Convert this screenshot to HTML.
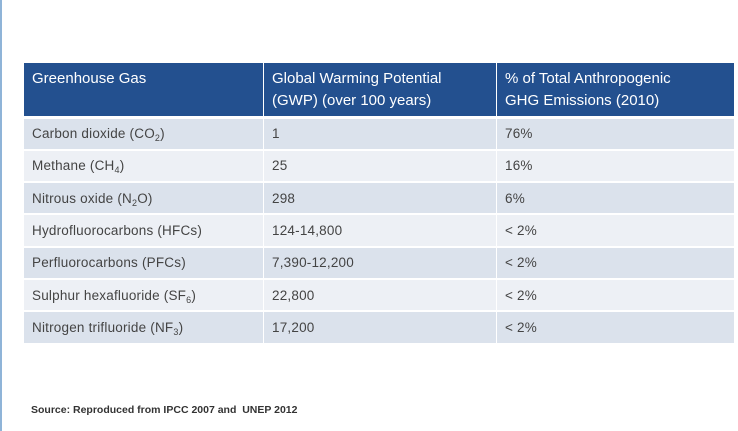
<!DOCTYPE html>
<html><head><style>
body{margin:0;width:738px;height:431px;background:#fff;position:relative;overflow:hidden;font-family:"Liberation Sans",sans-serif}
.bar{position:absolute;left:0;top:0;width:2px;height:431px;background:#8fb4d8}
table{position:absolute;left:23px;top:62px;width:712px;border-collapse:collapse}
td,th{padding:0 0 0 8px;text-align:left;border:1px solid #fff;border-bottom:2px solid #fff;box-sizing:border-box}
th{background:#23508f;color:#fff;font-weight:normal;font-size:15px;line-height:22px;height:55px;vertical-align:top;padding-top:5px;border-bottom:3px solid #fff}
td{font-size:13.5px;color:#444;height:32.3px;letter-spacing:0.2px}
tr:nth-child(even) td{background:#dbe2ec}
tr:nth-child(odd) td{background:#edf0f5}
sub{font-size:9px;vertical-align:-3px;line-height:0}
.src{position:absolute;left:31px;top:404px;font-size:10.5px;font-weight:bold;color:#333}
</style></head><body>
<div class="bar"></div>
<table>
<tr><th style="width:240px">Greenhouse Gas</th><th style="width:233px">Global Warming Potential<br>(GWP) (over 100 years)</th><th>% of Total Anthropogenic<br>GHG Emissions (2010)</th></tr>
<tr><td>Carbon dioxide (CO<sub>2</sub>)</td><td>1</td><td>76%</td></tr>
<tr><td>Methane (CH<sub>4</sub>)</td><td>25</td><td>16%</td></tr>
<tr><td>Nitrous oxide (N<sub>2</sub>O)</td><td>298</td><td>6%</td></tr>
<tr><td>Hydrofluorocarbons (HFCs)</td><td>124-14,800</td><td>&lt; 2%</td></tr>
<tr><td>Perfluorocarbons (PFCs)</td><td>7,390-12,200</td><td>&lt; 2%</td></tr>
<tr><td>Sulphur hexafluoride (SF<sub>6</sub>)</td><td>22,800</td><td>&lt; 2%</td></tr>
<tr><td>Nitrogen trifluoride (NF<sub>3</sub>)</td><td>17,200</td><td>&lt; 2%</td></tr>
</table>
<div class="src">Source: Reproduced from IPCC 2007 and &nbsp;UNEP 2012</div>
</body></html>
